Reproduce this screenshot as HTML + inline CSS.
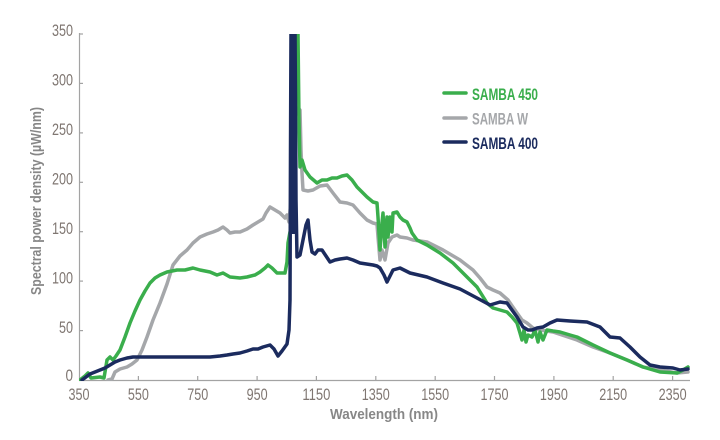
<!DOCTYPE html>
<html>
<head>
<meta charset="utf-8">
<style>
html,body{margin:0;padding:0;background:#fff;}
svg{display:block;}
.tk{font-family:"Liberation Sans Narrow","Liberation Sans",sans-serif;font-size:16.5px;fill:#7f7671;}
.ttl{font-family:"Liberation Sans Narrow","Liberation Sans",sans-serif;font-size:15px;font-weight:bold;fill:#878787;}
.lg{font-family:"Liberation Sans Narrow","Liberation Sans",sans-serif;font-size:17px;font-weight:bold;}
</style>
</head>
<body>
<svg width="720" height="440" viewBox="0 0 720 440" xmlns="http://www.w3.org/2000/svg">
<defs>
<clipPath id="pa"><rect x="79" y="34" width="615" height="347"/></clipPath>
</defs>
<rect width="720" height="440" fill="#fff"/>
<!-- axes -->
<g stroke="#a3a3a3" stroke-width="1.2" fill="none">
<line x1="79.5" y1="33" x2="79.5" y2="380.5"/>
<line x1="79" y1="380.5" x2="690" y2="380.5"/>
<line x1="79" y1="34" x2="83" y2="34"/>
<line x1="79" y1="83.4" x2="83" y2="83.4"/>
<line x1="79" y1="132.9" x2="83" y2="132.9"/>
<line x1="79" y1="182.3" x2="83" y2="182.3"/>
<line x1="79" y1="231.7" x2="83" y2="231.7"/>
<line x1="79" y1="281.1" x2="83" y2="281.1"/>
<line x1="79" y1="330.6" x2="83" y2="330.6"/>
<line x1="138.4" y1="376" x2="138.4" y2="380"/>
<line x1="197.7" y1="376" x2="197.7" y2="380"/>
<line x1="257.1" y1="376" x2="257.1" y2="380"/>
<line x1="316.4" y1="376" x2="316.4" y2="380"/>
<line x1="375.8" y1="376" x2="375.8" y2="380"/>
<line x1="435.2" y1="376" x2="435.2" y2="380"/>
<line x1="494.5" y1="376" x2="494.5" y2="380"/>
<line x1="553.9" y1="376" x2="553.9" y2="380"/>
<line x1="613.2" y1="376" x2="613.2" y2="380"/>
<line x1="672.6" y1="376" x2="672.6" y2="380"/>
</g>
<!-- y labels -->
<g class="tk">
<text x="52" y="36" textLength="21" lengthAdjust="spacingAndGlyphs">350</text>
<text x="52" y="85.5" textLength="21" lengthAdjust="spacingAndGlyphs">300</text>
<text x="52" y="135" textLength="21" lengthAdjust="spacingAndGlyphs">250</text>
<text x="52" y="184.5" textLength="21" lengthAdjust="spacingAndGlyphs">200</text>
<text x="52" y="234" textLength="21" lengthAdjust="spacingAndGlyphs">150</text>
<text x="52" y="283.5" textLength="21" lengthAdjust="spacingAndGlyphs">100</text>
<text x="59" y="333" textLength="14" lengthAdjust="spacingAndGlyphs">50</text>
<text x="65.5" y="381" textLength="7.5" lengthAdjust="spacingAndGlyphs">0</text>
</g>
<!-- x labels -->
<g class="tk">
<text x="68.5" y="400" textLength="21" lengthAdjust="spacingAndGlyphs">350</text>
<text x="127.9" y="400" textLength="21" lengthAdjust="spacingAndGlyphs">550</text>
<text x="187.2" y="400" textLength="21" lengthAdjust="spacingAndGlyphs">750</text>
<text x="246.6" y="400" textLength="21" lengthAdjust="spacingAndGlyphs">950</text>
<text x="302.4" y="400" textLength="28" lengthAdjust="spacingAndGlyphs">1150</text>
<text x="361.8" y="400" textLength="28" lengthAdjust="spacingAndGlyphs">1350</text>
<text x="421.2" y="400" textLength="28" lengthAdjust="spacingAndGlyphs">1550</text>
<text x="480.5" y="400" textLength="28" lengthAdjust="spacingAndGlyphs">1750</text>
<text x="539.9" y="400" textLength="28" lengthAdjust="spacingAndGlyphs">1950</text>
<text x="599.2" y="400" textLength="28" lengthAdjust="spacingAndGlyphs">2150</text>
<text x="658.6" y="400" textLength="28" lengthAdjust="spacingAndGlyphs">2350</text>
</g>
<!-- titles -->
<text class="ttl" x="330" y="419" textLength="108" lengthAdjust="spacingAndGlyphs">Wavelength (nm)</text>
<text class="ttl" transform="translate(41,295) rotate(-90)" x="0" y="0" textLength="188" lengthAdjust="spacingAndGlyphs">Spectral power density (µW/nm)</text>

<g clip-path="url(#pa)" fill="none" stroke-width="3.5" stroke-linejoin="round" stroke-linecap="round">
<!-- SAMBA W (gray) -->
<polyline stroke="#a5a7aa" points="108,380 112,379 115,372 120,369 127,367 132,364 137,360 142,350 147,337 153,320 160,303 167,284 173,265 180,256 187,250 193,243 200,237 207,234 213,232 218,230 223,227 227,230 230,233 235,232 240,232 247,229 253,225 258,222 263,219 266,213 270,207 275,210 280,213 285,218 287,215 289,222 291,200 294,120 298,108 300,110 301,150 302,173 303,190 308,191 313,190 320,186 327,185 333,193 340,202 347,203 353,205 360,213 367,220 373,223 377,224 378,237 380,260 382,250 385,260 388,243 392,237 397,235 400,237 407,238 413,240 427,242 443,250 460,260 473,270 480,278 487,287 493,290 500,293 508,300 517,313 522,320 527,323 533,328 540,330 553,332 565,336 577,340 593,347 610,353 627,360 643,367 660,370 677,373 688,372"/>
<!-- SAMBA 450 (green) -->
<polyline stroke="#3aae4c" points="80,380 85,376 88,373 91,378 100,377 104,378 107,360 110,357 113,360 116,356 120,350 125,337 130,323 135,311 140,300 145,291 150,283 155,278 160,275 167,272 177,270 185,270 193,268 200,270 210,272 217,275 223,273 230,277 240,278 247,277 255,275 260,272 265,268 268,265 272,268 277,273 285,273 287,262 288,243 290,232 292,230 294,34 298,34 299,120 300,167 302,160 305,170 310,177 317,183 322,180 327,180 332,178 337,178 342,176 347,175 352,180 357,187 362,192 367,197 373,202 377,203 378,217 380,250 382,223 383,213 385,247 387,217 388,237 390,217 392,232 393,213 397,212 400,217 403,220 407,222 410,228 412,233 417,240 427,245 440,253 453,263 467,277 477,287 487,303 493,308 500,310 507,312 512,317 517,323 520,333 522,340 524,330 526,342 528,335 532,337 535,330 538,342 540,332 543,340 547,330 553,331 560,332 570,335 577,337 593,345 610,353 627,360 643,367 660,372 677,373 683,370 688,367"/>
<!-- SAMBA 400 (navy) -->
<polyline stroke="#1b2b5e" points="82,380 86,377 90,374 95,372 100,370 105,368 110,365 115,362 120,360 127,358 133,357 140,357 150,357 160,357 170,357 180,357 190,357 200,357 210,357 220,356 227,355 233,354 240,353 247,351 253,349 258,349 263,347 270,345 274,349 278,356 282,351 287,344 289,330 290,300 290.5,150 291,30 295,30 295.5,100 296,200 297,257 300,255 303,240 306,225 308,220 310,240 312,252 315,254 318,250 322,250 326,256 330,262 335,260 340,259 347,258 353,260 360,263 373,265 377,266 380,268 384,275 387,282 390,276 393,270 400,268 410,273 427,277 443,283 460,289 477,298 490,305 500,302 507,303 512,310 517,317 523,327 528,330 532,330 537,328 543,327 550,323 557,320 570,321 587,322 600,327 610,337 620,338 630,347 640,357 650,365 660,367 673,368 680,370 688,369"/>
<rect x="290.5" y="34" width="5" height="200" fill="#1b2b5e" stroke="none"/>
</g>

<!-- legend -->
<g stroke-width="3.5" stroke-linecap="round">
<line x1="444" y1="93" x2="466" y2="93" stroke="#3aae4c"/>
<line x1="444" y1="118" x2="466" y2="118" stroke="#a5a7aa"/>
<line x1="444" y1="142" x2="466" y2="142" stroke="#1b2b5e"/>
</g>
<text class="lg" x="472" y="100" fill="#3aae4c" textLength="66" lengthAdjust="spacingAndGlyphs">SAMBA 450</text>
<text class="lg" x="472" y="124.5" fill="#a5a7aa" textLength="56" lengthAdjust="spacingAndGlyphs">SAMBA W</text>
<text class="lg" x="472" y="149" fill="#1b2b5e" textLength="66" lengthAdjust="spacingAndGlyphs">SAMBA 400</text>
</svg>
</body>
</html>
